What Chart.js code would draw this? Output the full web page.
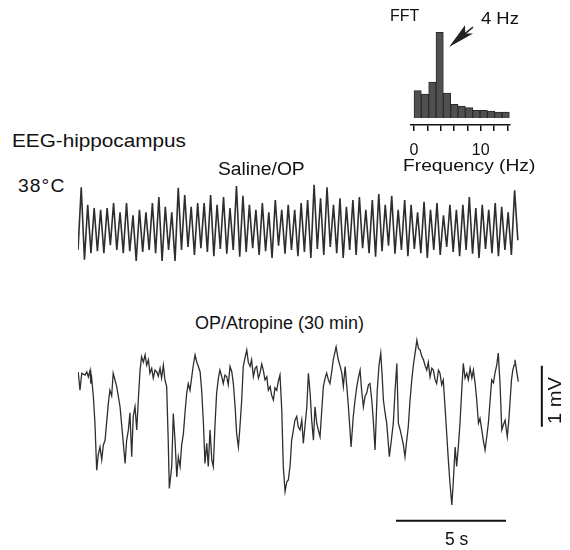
<!DOCTYPE html>
<html>
<head>
<meta charset="utf-8">
<script src="https://cdn.jsdelivr.net/npm/chart.js@4.4.0/dist/chart.umd.min.js"></script>
<style>
  body { margin: 0; background: #fff; }
  #fig { position: relative; width: 570px; height: 550px; overflow: hidden;
         font-family: "Liberation Sans", Arial, sans-serif; color: #111; }
  #fig canvas { position: absolute; }
  .lbl { position: absolute; white-space: nowrap; line-height: 1; transform-origin: 0 0; }
</style>
</head>
<body>
<div id="fig">
  <canvas id="fft" width="130" height="152" style="left:398px;top:8px"></canvas>
  <canvas id="trace1" width="442" height="86" style="left:78px;top:179px"></canvas>
  <canvas id="trace2" width="470" height="195" style="left:78px;top:335px"></canvas>

  <span class="lbl" style="left:390px;top:8px;font-size:16px">FFT</span>
  <span class="lbl" style="left:481px;top:11px;font-size:16px;transform:scaleX(1.15)">4 Hz</span>
  <span class="lbl" style="left:403px;top:157px;font-size:17px;transform:scaleX(1.13)">Frequency (Hz)</span>
  <span class="lbl" style="left:12px;top:132px;font-size:18.5px;transform:scaleX(1.12)">EEG-hippocampus</span>
  <span class="lbl" style="left:18px;top:178px;font-size:17.5px;letter-spacing:1px;transform:scaleX(1.1)">38°C</span>
  <span class="lbl" style="left:218px;top:160px;font-size:18px;transform:scaleX(1.07)">Saline/OP</span>
  <span class="lbl" style="left:195px;top:314px;font-size:18px">OP/Atropine (30 min)</span>
  <span class="lbl" style="left:547px;top:424px;font-size:17.5px;transform:rotate(-90deg) scaleX(1.15)">1 mV</span>
  <span class="lbl" style="left:445px;top:531px;font-size:17.5px">5 s</span>
</div>
<script>
// ---- FFT of the saline/OP trace ----
const FFT_FREQ = [0.55, 1.65, 2.75, 3.85, 4.95, 6.05, 7.15, 8.25, 9.35, 10.45, 11.55, 12.65, 13.75]; // Hz, bin centres
const FFT_POWER = [32, 28, 42, 100, 29, 16, 14, 12, 9, 9, 8, 7, 7]; // relative power
const FFT_TICKS = [0, 2, 4, 6, 8, 10, 12, 14];
const FFT_TICK_LABELS = [0, 10];
const FFT_ARROW_TIP = [5.26, 83]; // Hz, power  (points at the 4 Hz bin)

// ---- Saline/OP trace, mV, sampled every T1_DT s (trough, peak, trough ...) ----
const T1_DT = 0.147;
const T1_MV = [
  -0.46, 0.57, -0.62, 0.28, -0.51, 0.23, -0.48, 0.20, -0.51, 0.23,
  -0.38, 0.31, -0.46, 0.16, -0.51, 0.31, -0.48, 0.11, -0.64, 0.20,
  -0.49, 0.16, -0.46, 0.31, -0.51, 0.41, -0.64, 0.25, -0.46, 0.16,
  -0.64, 0.56, -0.46, 0.44, -0.41, 0.25, -0.54, 0.31, -0.43, 0.31,
  -0.49, 0.44, -0.56, 0.28, -0.44, 0.41, -0.52, 0.23, -0.46, 0.59,
  -0.57, 0.43, -0.49, 0.28, -0.43, 0.20, -0.54, 0.31, -0.48, 0.16,
  -0.59, 0.36, -0.39, 0.20, -0.52, 0.28, -0.46, 0.20, -0.56, 0.31,
  -0.49, 0.36, -0.59, 0.61, -0.44, 0.39, -0.54, 0.57, -0.41, 0.28,
  -0.51, 0.39, -0.59, 0.25, -0.46, 0.36, -0.54, 0.41, -0.43, 0.20,
  -0.51, 0.36, -0.57, 0.46, -0.48, 0.28, -0.39, 0.43, -0.52, 0.20,
  -0.46, 0.36, -0.56, 0.28, -0.44, 0.16, -0.51, 0.33, -0.59, 0.20,
  -0.46, 0.31, -0.54, 0.11, -0.41, 0.28, -0.49, 0.20, -0.56, 0.28,
  -0.46, 0.41, -0.52, 0.23, -0.59, 0.28, -0.44, 0.20, -0.51, 0.31,
  -0.56, 0.25, -0.46, 0.16, -0.54, 0.52, -0.30
];

// ---- OP/Atropine (30 min) trace ----
const T2_TIME = [ // s
  0.01, 0.09, 0.17, 0.32, 0.40, 0.47, 0.55, 0.58, 0.62, 0.70,
  0.77, 0.85, 0.92, 1.00, 1.08, 1.15, 1.23, 1.38, 1.45, 1.53,
  1.60, 1.68, 1.76, 1.91, 2.06, 2.14, 2.21, 2.29, 2.36, 2.44,
  2.51, 2.59, 2.67, 2.74, 2.82, 2.89, 2.97, 3.05, 3.12, 3.20,
  3.27, 3.35, 3.42, 3.50, 3.58, 3.65, 3.73, 3.80, 3.88, 3.95,
  4.03, 4.10, 4.15, 4.26, 4.33, 4.41, 4.49, 4.56, 4.64, 4.71,
  4.79, 4.86, 4.94, 5.01, 5.09, 5.17, 5.24, 5.32, 5.40, 5.47,
  5.55, 5.62, 5.70, 5.77, 5.85, 5.92, 6.00, 6.08, 6.15, 6.23,
  6.30, 6.38, 6.45, 6.53, 6.60, 6.68, 6.76, 6.83, 6.91, 6.99,
  7.06, 7.14, 7.21, 7.29, 7.36, 7.44, 7.51, 7.59, 7.67, 7.74,
  7.82, 7.89, 7.97, 8.05, 8.12, 8.20, 8.27, 8.35, 8.42, 8.50,
  8.58, 8.65, 8.73, 8.80, 8.88, 8.95, 9.03, 9.10, 9.18, 9.26,
  9.33, 9.41, 9.49, 9.56, 9.64, 9.71, 9.79, 9.86, 9.94, 10.01,
  10.09, 10.17, 10.24, 10.32, 10.40, 10.47, 10.55, 10.62, 10.70, 10.77,
  10.85, 10.92, 11.00, 11.08, 11.15, 11.23, 11.30, 11.38, 11.45, 11.53,
  11.60, 11.68, 11.73, 11.83, 11.91, 11.99, 12.06, 12.14, 12.21, 12.29,
  12.36, 12.41, 12.51, 12.59, 12.67, 12.74, 12.82, 12.89, 12.97, 13.05,
  13.12, 13.20, 13.27, 13.35, 13.42, 13.50, 13.55, 13.60, 13.68, 13.76,
  13.82, 13.88, 13.95, 14.03, 14.15, 14.24, 14.33, 14.41, 14.49, 14.56,
  14.64, 14.71, 14.79, 14.86, 14.94, 15.01, 15.09, 15.17, 15.24, 15.32,
  15.40, 15.47, 15.55, 15.62, 15.70, 15.77, 15.85, 15.92, 16.00, 16.08,
  16.15, 16.23, 16.30, 16.38, 16.45, 16.53, 16.60, 16.68, 16.76, 16.83,
  16.91, 16.99, 17.06, 17.14, 17.21, 17.29, 17.36, 17.44, 17.51, 17.59,
  17.67, 17.74, 17.82, 17.90, 17.97, 18.05, 18.12, 18.20, 18.27, 18.35,
  18.42, 18.50, 18.58, 18.65, 18.73, 18.80, 18.88, 18.95, 19.03, 19.10,
  19.18, 19.26, 19.33, 19.41, 19.51, 19.58, 19.64, 19.70, 19.76, 19.82,
  19.86, 19.94, 20.01
];
const T2_MV = [
  0.46, 0.16, 0.44, 0.41, 0.46, 0.38, 0.49, 0.27, 0.36, 0.05,
  -0.38, -1.15, -0.90, -0.77, -0.98, -0.74, -0.66, -0.05, 0.16, 0.07,
  0.44, 0.33, 0.22, -0.11, -0.71, -1.04, -0.66, -0.49, -0.21, -0.93,
  -0.27, -0.11, -0.49, 0.00, 0.49, 0.71, 0.62, 0.74, 0.57, 0.66,
  0.44, 0.52, 0.36, 0.49, 0.46, 0.39, 0.52, 0.36, 0.57, 0.33,
  0.22, -0.66, -1.45, -1.09, -0.22, -0.66, -1.26, -0.93, -1.09, -0.74,
  -0.55, -0.22, 0.11, 0.27, 0.16, 0.38, 0.57, 0.74, 0.62, 0.55,
  0.46, 0.16, -0.38, -1.04, -0.71, -1.09, -0.49, -0.98, -1.09, -0.38,
  0.11, 0.36, 0.49, 0.39, 0.27, 0.41, 0.38, 0.25, 0.55, 0.46,
  0.27, -0.11, -0.55, -0.77, -0.44, 0.00, 0.55, 0.69, 0.82, 0.62,
  0.55, 0.66, 0.38, 0.52, 0.55, 0.36, 0.44, 0.59, 0.49, 0.33,
  0.38, 0.16, 0.22, 0.08, 0.00, 0.20, 0.16, 0.30, 0.41, -0.16,
  -1.09, -1.50, -1.34, -1.31, -1.07, -0.66, -0.49, -0.33, -0.27, -0.44,
  -0.49, -0.33, -0.71, -0.41, -0.11, 0.44, 0.11, -0.33, -0.66, -0.11,
  -0.38, -0.49, -0.60, -0.16, 0.22, 0.36, 0.44, 0.33, 0.27, 0.46,
  0.66, 0.79, 0.87, 0.66, 0.56, 0.44, 0.22, 0.55, 0.25, -0.11,
  -0.49, -0.77, -0.27, 0.00, 0.22, 0.36, 0.49, 0.16, -0.11, 0.07,
  0.11, 0.25, 0.27, 0.00, -0.33, -0.82, -0.33, 0.16, 0.57, 0.77,
  0.41, 0.00, -0.20, -0.38, -0.93, -0.66, -0.38, 0.16, 0.60, -0.38,
  -0.49, -0.60, -0.74, -0.93, -0.66, -0.44, 0.00, 0.33, 0.57, 0.77,
  0.98, 0.85, 0.82, 0.72, 0.66, 0.57, 0.49, 0.62, 0.38, 0.52,
  0.49, 0.33, 0.27, 0.49, 0.44, 0.25, 0.33, -0.11, -0.57, -0.98,
  -1.39, -1.72, -1.31, -0.77, -1.09, -0.74, -0.38, 0.16, 0.60, 0.36,
  0.44, 0.33, 0.52, 0.36, 0.49, 0.27, 0.00, -0.38, -0.30, -0.49,
  -0.66, -0.82, -0.59, -0.38, 0.00, 0.33, 0.28, 0.44, 0.57, 0.77,
  0.27, -0.49, -0.41, -0.33, -0.60, -0.33, 0.00, 0.33, 0.49, 0.57,
  0.66, 0.46, 0.30
];

// scale bars (drawn in the atropine panel)
const SCALE_MV = 1, SCALE_S = 5;
const VBAR_AT = [21.08, 0.56];   // s, top in mV
const HBAR_AT = [14.45, -1.98];  // start s, level mV

Chart.defaults.font.family = '"Liberation Sans", Arial, sans-serif';
Chart.defaults.color = '#111';

const INK = '#111';
const TRACE = '#2e2e2e';

// arrow pointing at the theta peak
const arrowPlugin = {
  id: 'peakArrow',
  afterDraw(chart) {
    const ctx = chart.ctx;
    const x = chart.scales.x.getPixelForValue(FFT_ARROW_TIP[0]);
    const y = chart.scales.y.getPixelForValue(FFT_ARROW_TIP[1]);
    ctx.save();
    ctx.translate(x, y);
    ctx.rotate(-0.69);
    ctx.fillStyle = '#222';
    ctx.beginPath();
    ctx.moveTo(0, 0);
    ctx.lineTo(26, -6.5);
    ctx.lineTo(21, 0);
    ctx.lineTo(27, 5);
    ctx.closePath();
    ctx.fill();
    ctx.strokeStyle = '#222';
    ctx.lineWidth = 1.5;
    ctx.beginPath();
    ctx.moveTo(18, 0);
    ctx.lineTo(31, 0);
    ctx.stroke();
    ctx.restore();
  }
};

new Chart(document.getElementById('fft'), {
  type: 'bar',
  data: {
    datasets: [{
      data: FFT_FREQ.map((f, i) => ({ x: f, y: FFT_POWER[i] })),
      backgroundColor: '#505050',
      borderColor: '#2a2a2a',
      borderWidth: 1,
      barPercentage: 1,
      categoryPercentage: 1
    }]
  },
  options: {
    responsive: false, animation: false, events: [], devicePixelRatio: 1,
    layout: { padding: { left: 13, right: 18, top: 22, bottom: 0 } },
    plugins: { legend: { display: false }, tooltip: { enabled: false } },
    scales: {
      x: {
        type: 'linear', min: -0.45, max: 14.4, offset: false,
        afterBuildTicks: s => { s.ticks = FFT_TICKS.map(v => ({ value: v })); },
        afterFit: s => { s.height = 35; },
        border: { display: true, color: INK, width: 1.5 },
        grid: { drawOnChartArea: false, drawTicks: true, tickLength: 6, color: INK, lineWidth: 1.5, offset: false },
        ticks: {
          autoSkip: false, maxRotation: 0, padding: 10, color: INK,
          font: { size: 16 },
          callback: v => FFT_TICK_LABELS.includes(v) ? String(v) : ''
        }
      },
      y: { display: false, min: -8.2, max: 102.7 }
    }
  },
  plugins: [arrowPlugin]
});

function traceChart(id, datasets, xMax, yMin, yMax) {
  return new Chart(document.getElementById(id), {
    type: 'line',
    data: { datasets },
    options: {
      responsive: false, animation: false, events: [], devicePixelRatio: 1,
      layout: { padding: 0 },
      plugins: { legend: { display: false }, tooltip: { enabled: false } },
      elements: { point: { radius: 0 }, line: { tension: 0 } },
      scales: {
        x: { type: 'linear', display: false, min: 0, max: xMax },
        y: { display: false, min: yMin, max: yMax }
      }
    }
  });
}

traceChart('trace1', [{
  data: T1_MV.map((v, i) => ({ x: i * T1_DT, y: v })),
  borderColor: TRACE, borderWidth: 1.6, clip: false
}], 20.09, -0.705, 0.705);

traceChart('trace2', [
  {
    data: T2_TIME.map((t, i) => ({ x: t, y: T2_MV[i] })),
    borderColor: TRACE, borderWidth: 1.3, clip: false
  },
  {
    data: [{ x: VBAR_AT[0], y: VBAR_AT[1] }, { x: VBAR_AT[0], y: VBAR_AT[1] - SCALE_MV }],
    borderColor: INK, borderWidth: 2, clip: false
  },
  {
    data: [{ x: HBAR_AT[0], y: HBAR_AT[1] }, { x: HBAR_AT[0] + SCALE_S, y: HBAR_AT[1] }],
    borderColor: INK, borderWidth: 2, clip: false
  }
], 21.36, -2.131, 1.066);
</script>
</body>
</html>
